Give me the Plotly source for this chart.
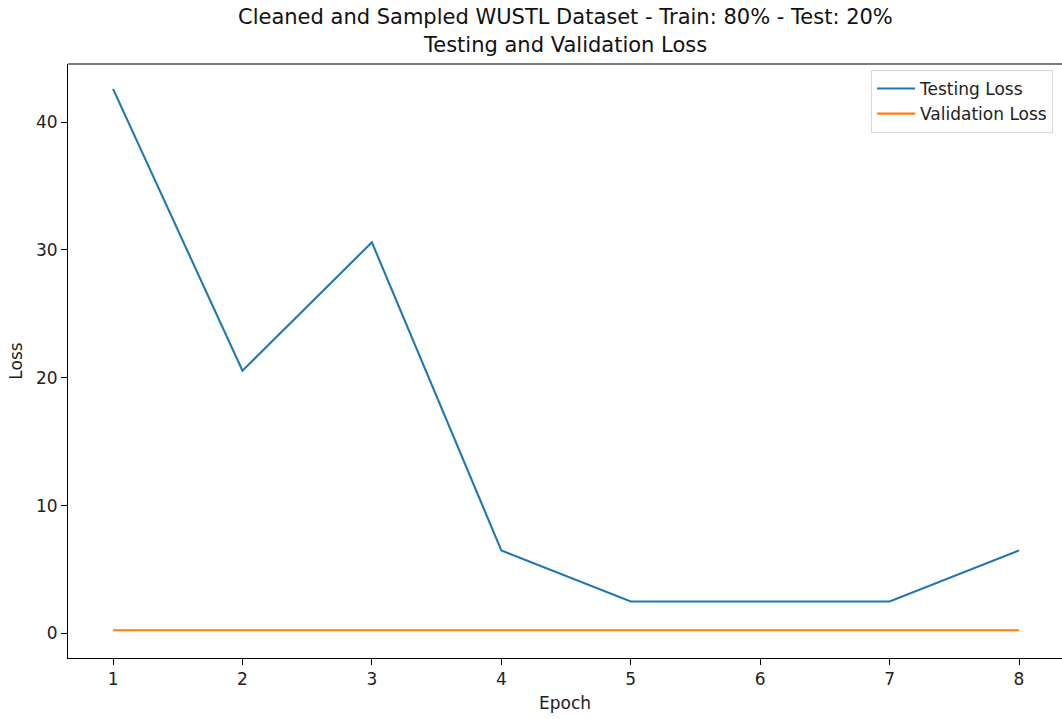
import plotly.graph_objects as go

# Per-epoch loss values
epochs = [1, 2, 3, 4, 5, 6, 7, 8]
testing_loss = [42.6, 20.55, 30.6, 6.5, 2.5, 2.5, 2.5, 6.5]
validation_loss = [0.25, 0.25, 0.25, 0.25, 0.25, 0.25, 0.25, 0.25]

title_lines = [
    "Cleaned and Sampled WUSTL Dataset - Train: 80% - Test: 20%",
    "Testing and Validation Loss",
]

FONT = "DejaVu Sans"
W, H = 1062, 719
L, R, T, B = 68, 0, 64, 61

fig = go.Figure()
fig.add_trace(go.Scatter(x=epochs, y=testing_loss, mode="lines", name="Testing Loss",
                         line=dict(color="#1f77b4", width=2.1)))
fig.add_trace(go.Scatter(x=epochs, y=validation_loss, mode="lines", name="Validation Loss",
                         line=dict(color="#ff7f0e", width=2.1)))

axis_common = dict(
    showgrid=False, zeroline=False, showline=True, linecolor="black", linewidth=1.1,
    ticks="outside", ticklen=6, tickwidth=1.1, tickcolor="black",
    tickfont=dict(family=FONT, size=17, color="#222222"),
)

fig.update_layout(
    width=W, height=H,
    margin=dict(l=L, r=R, t=T, b=B),
    plot_bgcolor="white", paper_bgcolor="white",
    font=dict(family=FONT, size=17, color="#222222"),
    showlegend=True,
    legend=dict(
        x=0.991, xanchor="right", y=0.99, yanchor="top",
        bgcolor="rgba(255,255,255,0.8)", bordercolor="#d9d9d9", borderwidth=1,
        font=dict(family=FONT, size=17, color="#222222"),
        tracegroupgap=0, itemwidth=38,
    ),
    xaxis=dict(range=[0.652, 8.332], tickmode="array", tickvals=epochs,
               title=dict(text="Epoch", font=dict(family=FONT, size=17), standoff=8),
               **axis_common),
    yaxis=dict(range=[-1.92, 44.55], tickmode="array", tickvals=[0, 10, 20, 30, 40],
               title=dict(text="Loss", font=dict(family=FONT, size=17), standoff=8),
               **axis_common),
)

# Top frame edge of the axes box
fig.add_shape(type="line", xref="paper", yref="paper", x0=0, x1=1, y0=1, y1=1,
              line=dict(color="black", width=1.1))

# Two-line title above the axes
for txt, ypx in zip(title_lines, [17, 45]):
    fig.add_annotation(text=txt, xref="paper", yref="paper", x=0.5,
                       y=1 + (T - ypx) / (H - T - B),
                       xanchor="center", yanchor="middle", showarrow=False,
                       font=dict(family=FONT, size=21, color="#111111"))

fig.write_html("out.html")
